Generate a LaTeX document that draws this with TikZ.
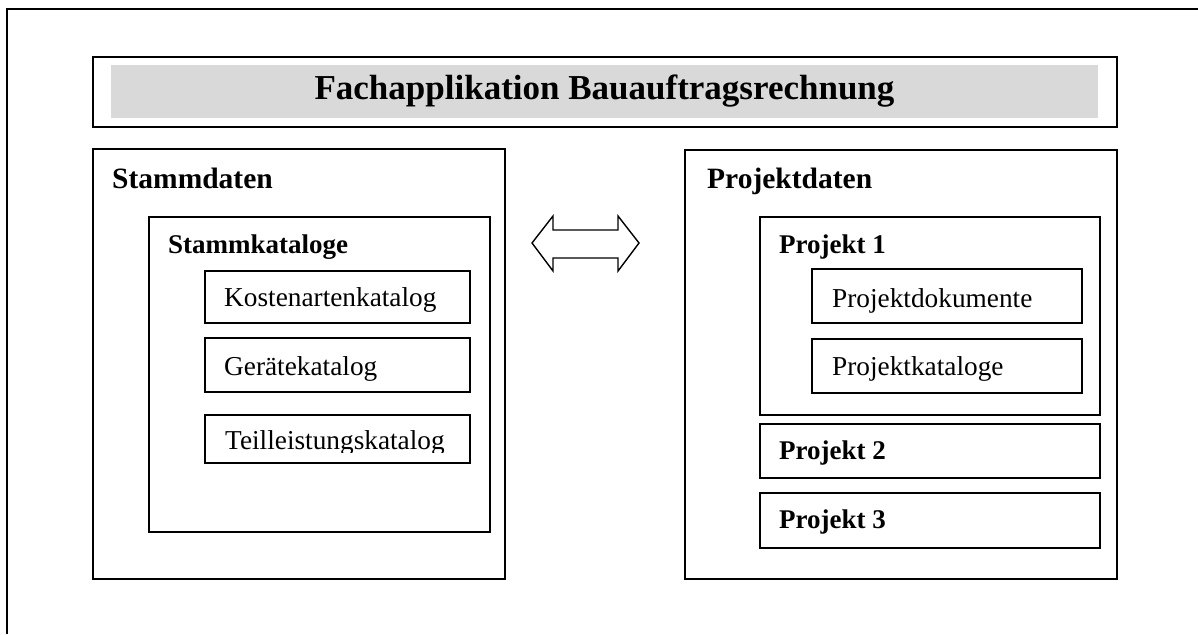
\documentclass[tikz,border=0pt]{standalone}
\usepackage{fontspec}
\setmainfont{Liberation Serif}
\definecolor{bandgray}{HTML}{D9D9D9}
\begin{document}
\begin{tikzpicture}[x=1pt,y=-1pt,
  frame/.style={draw=black,line width=2pt},
  box/.style={draw=black,line width=2pt,anchor=north west,inner sep=0pt,outer sep=0pt},
  band/.style={fill=bandgray,anchor=north west,inner sep=0pt,outer sep=0pt},
  titletext/.style={anchor=base,inner sep=0pt,font=\fontsize{35}{40}\selectfont\bfseries},
  heading/.style={anchor=base west,inner sep=0pt,font=\fontsize{29.5}{34}\selectfont\bfseries},
  subheading/.style={anchor=base west,inner sep=0pt,font=\fontsize{27}{31}\selectfont\bfseries},
  item/.style={anchor=base west,inner sep=0pt,font=\fontsize{27.3}{31}\selectfont},
  exchange/.style={draw=black,line width=1.4pt,line join=miter,fill=white},
]
\useasboundingbox (0,0) rectangle (1198,634);

% open page frame (top and left edge only)
\coordinate (frameBL) at (7,634);
\coordinate (frameTL) at (7,9);
\coordinate (frameTR) at (1198,9);
\draw[frame] (frameBL) -- (frameTL) -- (frameTR);

% title
\node[box,minimum width=1024pt,minimum height=70pt] (titlebox) at (93,57) {};
\node[band,minimum width=987pt,minimum height=53pt] (titleband) at (111,65) {};
\node[titletext] (title) at (604.5,99) {Fachapplikation Bauauftragsrechnung};

% master data
\node[box,minimum width=412pt,minimum height=430pt] (stamm) at (93,149) {};
\node[heading] (stammlabel) at (112,188) {Stammdaten};
\node[box,minimum width=341pt,minimum height=315pt] (katalog) at (149,217) {};
\node[subheading] (kataloglabel) at (168,253) {Stammkataloge};
\node[box,minimum width=265pt,minimum height=52pt] (kosten) at (205,271) {};
\node[item] (kostenlabel) at (224,306.5) {Kostenartenkatalog};
\node[box,minimum width=265pt,minimum height=54pt] (geraete) at (205,338) {};
\node[item] (geraetelabel) at (224,375) {Gerätekatalog};
\node[box,minimum width=265pt,minimum height=48pt] (teil) at (205,415) {};
\begin{scope}
  \clip (205,415) rectangle (470,452);
  \node[item] (teillabel) at (225,449) {Teilleistungskatalog};
\end{scope}

% exchange arrow
\draw[exchange] (532,243) -- (553,216) -- (553,230) -- (618,230) -- (618,216)
  -- (639,243) -- (618,271) -- (618,258) -- (553,258) -- (553,271) -- cycle;

% project data
\node[box,minimum width=432pt,minimum height=429pt] (projekt) at (685,150) {};
\node[heading] (projektlabel) at (707,188) {Projektdaten};
\node[box,minimum width=340pt,minimum height=198pt] (p1) at (760,217) {};
\node[subheading] (p1label) at (779,253) {Projekt 1};
\node[box,minimum width=270pt,minimum height=54pt] (pdok) at (812,269) {};
\node[item] (pdoklabel) at (832,307) {Projektdokumente};
\node[box,minimum width=270pt,minimum height=54pt] (pkat) at (812,339) {};
\node[item] (pkatlabel) at (832,375) {Projektkataloge};
\node[box,minimum width=340pt,minimum height=54pt] (p2) at (760,424) {};
\node[subheading] (p2label) at (779,459) {Projekt 2};
\node[box,minimum width=340pt,minimum height=55pt] (p3) at (760,493) {};
\node[subheading] (p3label) at (779,528) {Projekt 3};
\end{tikzpicture}
\end{document}
